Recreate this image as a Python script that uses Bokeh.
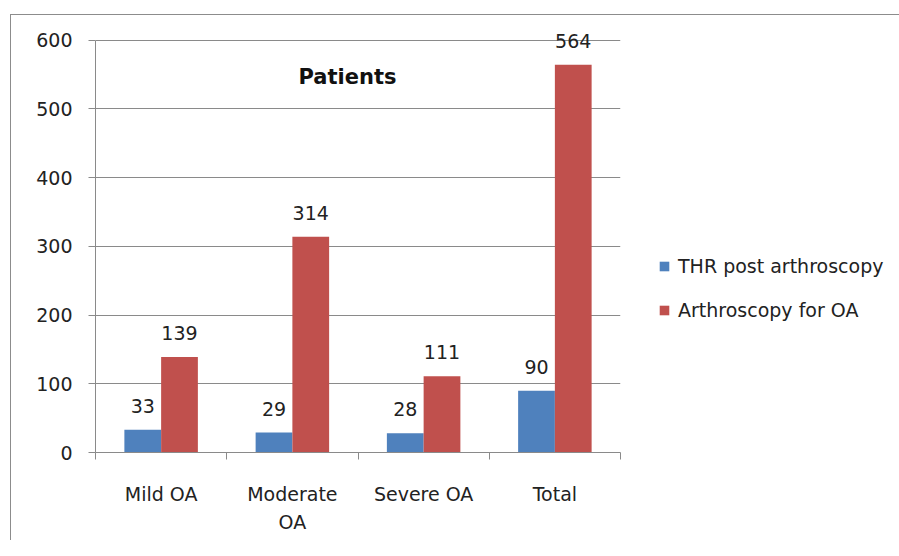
from bokeh.plotting import figure
from bokeh.models import (ColumnDataSource, Range1d, FixedTicker, Legend, LegendItem, Label)
from bokeh.embed import file_html
from bokeh.resources import INLINE
from bokeh.core.properties import value

categories = ["Mild OA", "Moderate OA", "Severe OA", "Total"]
category_labels = ["Mild OA", "Moderate\nOA", "Severe OA", "Total"]
thr_post = [33, 29, 28, 90]
arthro_oa = [139, 314, 111, 564]
series_names = ["THR post arthroscopy", "Arthroscopy for OA"]
y_ticks = [0, 100, 200, 300, 400, 500, 600]
title_text = "Patients"

BLUE = "#4F81BD"
RED = "#C0504D"
GRID = "#8a8a8a"
FONT = "DejaVu Sans"
BAR_W = 0.28
Y_HEADROOM = 30  # extra room above the top tick so the "564" label is not clipped

idx = list(range(len(categories)))
centers = [i + 0.5 for i in idx]
src_a = ColumnDataSource(dict(x=[c - BAR_W / 2 for c in centers], y=thr_post,
                              t=[str(v) for v in thr_post]))
src_b = ColumnDataSource(dict(x=[c + BAR_W / 2 for c in centers], y=arthro_oa,
                              t=[str(v) for v in arthro_oa]))

p = figure(output_backend="svg", toolbar_location=None,
           frame_width=525, frame_height=433,
           x_range=Range1d(0, len(categories)),
           y_range=Range1d(y_ticks[0], y_ticks[-1] + Y_HEADROOM),
           min_border_left=84, min_border_top=4, min_border_bottom=88, min_border_right=5)
p.margin = (14, 0, 0, 10)
p.styles = {"border-top": "1px solid #8c8c8c", "border-left": "1px solid #8c8c8c"}
p.outline_line_color = None
p.background_fill_color = "white"
p.border_fill_color = "white"

r_a = p.vbar(x="x", top="y", width=BAR_W, source=src_a, fill_color=BLUE, line_color=None)
r_b = p.vbar(x="x", top="y", width=BAR_W, source=src_b, fill_color=RED, line_color=None)

for src in (src_a, src_b):
    p.text(x="x", y="y", text="t", source=src, y_offset=-24,
           text_align="center", text_baseline="middle",
           text_font=value(FONT), text_font_size="19px", text_color="#222222")

p.add_layout(Label(x=1.92, y=546, text=title_text, text_align="center",
                   text_baseline="middle", text_font=FONT, text_font_size="21px",
                   text_font_style="bold", text_color="#111111"))

# y axis
p.yaxis.ticker = FixedTicker(ticks=y_ticks)
p.yaxis.bounds = (y_ticks[0], y_ticks[-1])
p.yaxis.major_tick_out = 7
p.yaxis.major_tick_in = 0
p.yaxis.minor_tick_line_color = None
p.yaxis.major_label_standoff = 16
p.yaxis.axis_line_color = GRID
p.yaxis.major_tick_line_color = GRID
p.yaxis.major_label_text_font = FONT
p.yaxis.major_label_text_font_size = "19px"
p.yaxis.major_label_text_color = "#222222"

# x axis
p.xaxis.ticker = FixedTicker(ticks=centers, minor_ticks=[float(i) for i in range(len(categories) + 1)])
p.xaxis.major_label_overrides = {c: lab for c, lab in zip(centers, category_labels)}
p.xaxis.major_tick_out = 0
p.xaxis.major_tick_in = 0
p.xaxis.minor_tick_out = 7
p.xaxis.minor_tick_in = 0
p.xaxis.minor_tick_line_color = GRID
p.xaxis.axis_line_color = GRID
p.xaxis.major_label_standoff = 23
p.xaxis.major_label_text_font = FONT
p.xaxis.major_label_text_font_size = "19px"
p.xaxis.major_label_text_color = "#222222"
p.xaxis.major_label_text_line_height = 1.3

p.xgrid.grid_line_color = None
p.ygrid.grid_line_color = GRID
p.ygrid.ticker = p.yaxis.ticker

legend = Legend(items=[LegendItem(label=series_names[0], renderers=[r_a]),
                       LegendItem(label=series_names[1], renderers=[r_b])],
                location=(38, 131), orientation="vertical")
legend.border_line_color = None
legend.background_fill_alpha = 0
legend.padding = 0
legend.margin = 0
legend.spacing = 22
legend.glyph_width = 12
legend.glyph_height = 12
legend.label_standoff = 8
legend.label_text_font = FONT
legend.label_text_font_size = "19px"
legend.label_text_color = "#222222"
p.add_layout(legend, "right")

open("out.html", "w").write(file_html(p, INLINE))
